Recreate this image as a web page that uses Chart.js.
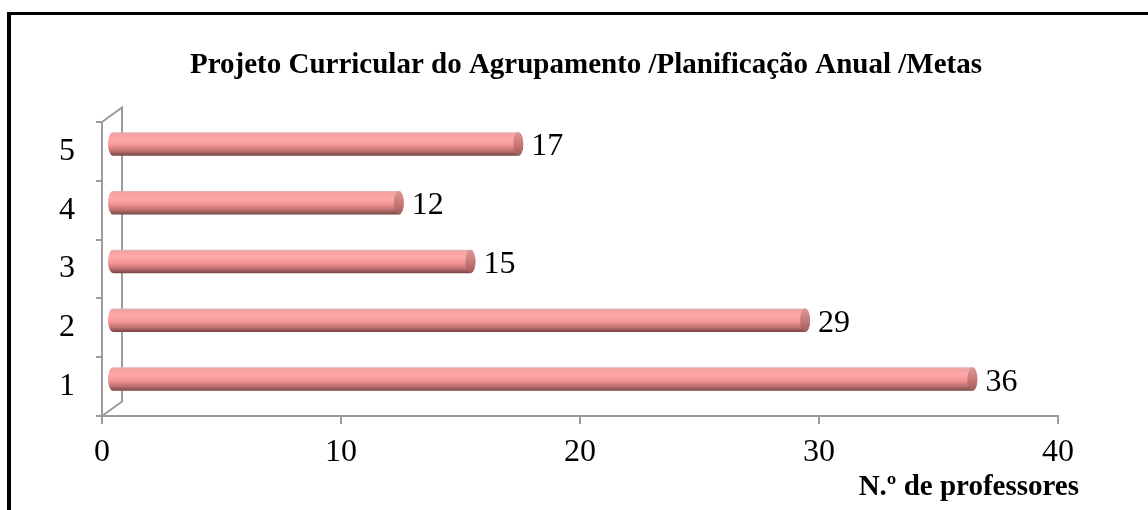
<!DOCTYPE html>
<html>
<head>
<meta charset="utf-8">
<script src="https://cdn.jsdelivr.net/npm/chart.js@4/dist/chart.umd.min.js"></script>
<style>
    html, body { margin: 0; padding: 0; background: #fff; }
    #wrap { width: 1148px; height: 510px; }
</style>
</head>
<body>
<div id="wrap"><canvas id="metas-chart"></canvas></div>
<script>
// Dados
const categorias = ['1', '2', '3', '4', '5'];
const professores = [36, 29, 15, 12, 17];
const ticksX = [0, 10, 20, 30, 40];
const titulo = 'Projeto Curricular do Agrupamento /Planificação Anual /Metas';
const tituloX = 'N.º de professores';

const serif = '"Liberation Serif", "Times New Roman", serif';
const cinza = '#9c9c9c';
// deslocamento da profundidade (efeito 3D)
const DX = 10, DY = -7.5;
const PX = 20, PY = -14.5;

const metasChart = document.querySelector('#metas-chart');

const dataMetas = {
    labels: categorias,
    datasets: [{
        label: tituloX,
        data: professores,
        backgroundColor: 'rgba(0,0,0,0)',
        borderWidth: 0,
        categoryPercentage: 1,
        barPercentage: 0.40
    }]
};

const optionsMetas = {
    indexAxis: 'y',
    responsive: true,
    maintainAspectRatio: false,
    animation: false,
    layout: {
        padding: { top: 122, left: 30, right: 90, bottom: 0 }
    },
    scales: {
        x: {
            min: 0,
            max: 40,
            afterBuildTicks: (scale) => {
                scale.ticks = ticksX.map(v => ({ value: v }));
            },
            afterFit: (scale) => { scale.height = 94; },
            grid: {
                drawOnChartArea: false,
                color: cinza,
                lineWidth: 2,
                tickLength: 8
            },
            border: { color: cinza, width: 2 },
            ticks: {
                color: '#000',
                padding: 9,
                font: { family: serif, size: 32 }
            }
        },
        y: {
            reverse: true,
            afterFit: (scale) => { scale.width = 72; },
            grid: {
                drawOnChartArea: false,
                color: cinza,
                lineWidth: 2,
                tickLength: 6
            },
            border: { color: cinza, width: 2 },
            ticks: {
                color: '#000',
                padding: 21,
                font: { family: serif, size: 32 }
            }
        }
    },
    plugins: {
        legend: { display: false },
        tooltip: { enabled: false }
    }
};

// Moldura, parede 3D, cilindros e textos
const metasPlugin = {
    id: 'metasCilindros',
    beforeDraw: (chart) => {
        const ctx = chart.ctx;
        ctx.save();
        ctx.fillStyle = '#fff';
        ctx.fillRect(0, 0, chart.width, chart.height);
        ctx.fillStyle = '#000';
        ctx.fillRect(7, 12, chart.width - 7, 3);
        ctx.fillRect(7, 12, 4, chart.height - 12);
        ctx.restore();
    },
    beforeDatasetsDraw: (chart) => {
        const ctx = chart.ctx;
        const a = chart.chartArea;
        ctx.save();
        ctx.strokeStyle = cinza;
        ctx.lineWidth = 2;
        ctx.beginPath();
        ctx.moveTo(a.left, a.top);
        ctx.lineTo(a.left + PX, a.top + PY);
        ctx.lineTo(a.left + PX, a.bottom + PY);
        ctx.lineTo(a.left, a.bottom);
        ctx.stroke();
        ctx.restore();
    },
    afterDatasetsDraw: (chart) => {
        const ctx = chart.ctx;
        const meta = chart.getDatasetMeta(0);
        ctx.save();
        meta.data.forEach((bar, i) => {
            const { x, y, base, height } = bar.getProps(['x', 'y', 'base', 'height'], true);
            const cy = y + DY;
            const ry = height / 2;
            const rx = 5;
            const x0 = base + DX;
            const x1 = x + DX;
            const top = cy - ry, bot = cy + ry;

            const grad = ctx.createLinearGradient(0, top, 0, bot);
            grad.addColorStop(0, '#d9b9b9');
            grad.addColorStop(0.08, '#f5a0a0');
            grad.addColorStop(0.3, '#ffa9a9');
            grad.addColorStop(0.55, '#f59797');
            grad.addColorStop(0.8, '#c07070');
            grad.addColorStop(1, '#774444');

            ctx.beginPath();
            ctx.moveTo(x0, top);
            ctx.lineTo(x1, top);
            ctx.ellipse(x1, cy, rx, ry, 0, -Math.PI / 2, Math.PI / 2);
            ctx.lineTo(x0, bot);
            ctx.ellipse(x0, cy, rx, ry, 0, Math.PI / 2, Math.PI * 1.5);
            ctx.closePath();
            ctx.fillStyle = grad;
            ctx.fill();

            const face = ctx.createLinearGradient(0, top, 0, bot);
            face.addColorStop(0, '#dc9696');
            face.addColorStop(0.5, '#c97a7a');
            face.addColorStop(1, '#9e5a5a');
            ctx.beginPath();
            ctx.ellipse(x1, cy, rx, ry, 0, 0, Math.PI * 2);
            ctx.fillStyle = face;
            ctx.fill();

            ctx.fillStyle = '#000';
            ctx.font = '32px ' + serif;
            ctx.textAlign = 'left';
            ctx.textBaseline = 'middle';
            ctx.fillText(String(professores[i]), x1 + rx + 8, cy + 3);
        });
        ctx.restore();
    },
    afterDraw: (chart) => {
        const ctx = chart.ctx;
        ctx.save();
        ctx.fillStyle = '#000';
        ctx.font = 'bold 29px ' + serif;
        ctx.textBaseline = 'middle';
        ctx.textAlign = 'center';
        ctx.fillText(titulo, 586, 66);
        ctx.textAlign = 'right';
        ctx.fillText(tituloX, 1079, 488);
        ctx.restore();
    }
};

new Chart(metasChart, {
    type: 'bar',
    data: dataMetas,
    options: optionsMetas,
    plugins: [metasPlugin]
});
</script>
</body>
</html>
